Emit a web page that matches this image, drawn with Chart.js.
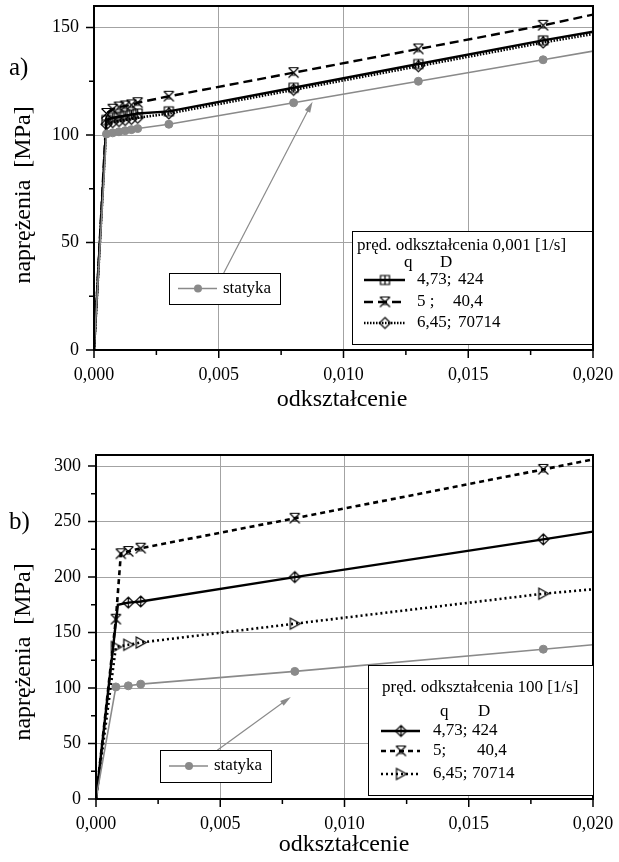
<!DOCTYPE html>
<html><head><meta charset="utf-8">
<script src="https://cdn.jsdelivr.net/npm/chart.js@4"></script>
<style>
html,body{margin:0;padding:0;background:#fff;}
#wrap{position:relative;width:619px;height:862px;background:#fff;}
canvas{position:absolute;left:0;}
</style></head><body>
<div id="wrap">
<canvas id="ca" width="619" height="431" style="top:0px"></canvas>
<canvas id="cb" width="619" height="431" style="top:431px"></canvas>
</div>
<script>
// ---------- tick values ----------
const xTicksMajor = [0, 0.005, 0.010, 0.015, 0.020];
const xTicksMinor = [0.0025, 0.0075, 0.0125, 0.0175];
const yTicksMajorA = [0, 50, 100, 150];
const yTicksMinorA = [25, 75, 125];
const yTicksMajorB = [0, 50, 100, 150, 200, 250, 300];
const yTicksMinorB = [25, 75, 125, 175, 225, 275];

// ---------- chart a) : strain rate 0,001 1/s ----------
const strainA      = [0, 0.0005, 0.00075, 0.001, 0.00125, 0.0015, 0.00175, 0.003, 0.008, 0.013, 0.018, 0.020];
const statykaA     = [0, 100.5, 101, 101.5, 102, 102.5, 103, 105, 115, 125, 135, 139];
const stressA_473  = [0, 107, 108, 108.5, 109, 109.5, 110, 111, 122, 133, 144, 148];
const stressA_5    = [0, 110, 112, 113, 113.5, 114, 115, 118, 129, 140, 151, 156];
const stressA_645  = [0, 105, 106, 106.5, 107, 107.5, 108, 110, 121, 132, 143, 147];

// ---------- chart b) : strain rate 100 1/s ----------
const strainB_stat = [0, 0.0008, 0.0013, 0.0018, 0.008, 0.018, 0.020];
const statykaB     = [0, 101, 102, 103.5, 115, 135, 139];
const strainB_473  = [0, 0.00088, 0.0013, 0.0018, 0.008, 0.018, 0.020];
const stressB_473  = [0, 175, 177, 178, 200, 234, 241];
const strainB_5    = [0, 0.0008, 0.001, 0.0013, 0.0018, 0.008, 0.018, 0.020];
const stressB_5    = [0, 162, 221, 223, 226, 253, 297, 306];
const strainB_645  = [0, 0.0008, 0.0013, 0.0018, 0.008, 0.018, 0.020];
const stressB_645  = [0, 137, 139, 141, 158, 185, 189];

// ---------- texts ----------
const legendTitleA = 'pręd. odkształcenia 0,001 [1/s]';
const legendTitleB = 'pręd. odkształcenia 100 [1/s]';
const qLabelsA = ['4,73;', '5 ;', '6,45;'];
const dLabelsA = ['424', '40,4', '70714'];
const qLabelsB = ['4,73;', '5;', '6,45;'];
const dLabelsB = ['424', '40,4', '70714'];
const staticLabel = 'statyka';
const yTitle = 'naprężenia  [MPa]';
const xTitle = 'odkształcenie';

const FONT = "'Liberation Serif', 'Times New Roman', serif";
Chart.defaults.font.family = FONT;
Chart.defaults.color = '#000';
const GRAY = '#8a8a8a';

// ---------- marker glyphs ----------
function mk(draw) {
  const c = document.createElement('canvas'); c.width = 15; c.height = 15;
  const g = c.getContext('2d'); g.strokeStyle = '#000'; g.lineWidth = 1.2;
  g.translate(7.5, 7.5); g.beginPath(); draw(g); g.stroke(); return c;
}
const mSqPlus = mk(g => { g.rect(-4.5, -4.5, 9, 9); g.moveTo(-4.5, 0); g.lineTo(4.5, 0); g.moveTo(0, -4.5); g.lineTo(0, 4.5); });
const mHourX = mk(g => { g.moveTo(-5, -5); g.lineTo(5, 5); g.moveTo(5, -5); g.lineTo(-5, 5); g.moveTo(-5, -5); g.lineTo(5, -5); g.moveTo(-2.5, 2.5); g.lineTo(2.5, 2.5); });
const mDiamond = mk(g => { g.moveTo(0, -5.5); g.lineTo(5.5, 0); g.lineTo(0, 5.5); g.lineTo(-5.5, 0); g.closePath(); });
const mDiamondPlus = mk(g => { g.moveTo(0, -5.5); g.lineTo(5.5, 0); g.lineTo(0, 5.5); g.lineTo(-5.5, 0); g.closePath(); g.moveTo(0, -5.5); g.lineTo(0, 5.5); g.moveTo(-5.5, 0); g.lineTo(5.5, 0); });
const mTriRight = mk(g => { g.moveTo(-4.5, -5.5); g.lineTo(5.5, 0); g.lineTo(-4.5, 5.5); g.closePath(); });

function pts(xs, ys) { return xs.map((x, i) => ({ x: x, y: ys[i] })); }
const isOn = (v, step) => Math.abs(v / step - Math.round(v / step)) < 1e-6;

function ds(label, xs, ys, style) {
  const n = xs.length;
  const hide = style.hide || [];
  return {
    label: label, data: pts(xs, ys),
    borderColor: style.color, backgroundColor: style.fill || style.color,
    borderWidth: style.width, borderDash: style.dash || [],
    pointStyle: style.marker, pointBorderColor: style.color, pointBackgroundColor: style.fill || style.color,
    pointRadius: ctx => (ctx.dataIndex === 0 || ctx.dataIndex === n - 1 || hide.includes(ctx.dataIndex)) ? 0 : (style.r || 5),
    pointBorderWidth: 1, tension: 0, fill: false, _marker: style.marker
  };
}

function drawSample(ctx, d, x0, x1, y, mx) {
  ctx.save();
  ctx.strokeStyle = d.borderColor; ctx.lineWidth = d.borderWidth; ctx.setLineDash(d.borderDash || []);
  ctx.beginPath(); ctx.moveTo(x0, y); ctx.lineTo(x1, y); ctx.stroke();
  ctx.setLineDash([]);
  const m = d._marker;
  if (m === 'circle') { ctx.fillStyle = d.pointBackgroundColor; ctx.beginPath(); ctx.arc(mx, y, 4, 0, Math.PI * 2); ctx.fill(); }
  else { ctx.drawImage(m, Math.round(mx) - 7.5, Math.round(y) - 7.5); }
  ctx.restore();
}

function annot(spec) {
  return {
    id: 'annot' + spec.id,
    afterDraw(chart) {
      const ctx = chart.ctx, a = chart.chartArea, xs = chart.scales.x, ys = chart.scales.y;
      const D = chart.data.datasets;
      ctx.save();
      // ticks
      ctx.strokeStyle = '#000'; ctx.lineWidth = 1.5; ctx.beginPath();
      xTicksMajor.forEach(v => { const p = xs.getPixelForValue(v); ctx.moveTo(p, a.bottom); ctx.lineTo(p, a.bottom + 8); });
      xTicksMinor.forEach(v => { const p = xs.getPixelForValue(v); ctx.moveTo(p, a.bottom); ctx.lineTo(p, a.bottom + 5); });
      spec.yMajor.forEach(v => { const p = ys.getPixelForValue(v); ctx.moveTo(a.left, p); ctx.lineTo(a.left - 8, p); });
      spec.yMinor.forEach(v => { const p = ys.getPixelForValue(v); ctx.moveTo(a.left, p); ctx.lineTo(a.left - 5, p); });
      ctx.stroke();
      // frame
      ctx.lineWidth = 2; ctx.strokeRect(a.left, a.top, a.right - a.left, a.bottom - a.top);
      // arrow
      const ax0 = xs.getPixelForValue(spec.arrow[0]), ay0 = ys.getPixelForValue(spec.arrow[1]);
      const ax1 = xs.getPixelForValue(spec.arrow[2]), ay1 = ys.getPixelForValue(spec.arrow[3]);
      const ang = Math.atan2(ay1 - ay0, ax1 - ax0);
      ctx.strokeStyle = GRAY; ctx.fillStyle = GRAY; ctx.lineWidth = 1.2;
      ctx.beginPath(); ctx.moveTo(ax0, ay0); ctx.lineTo(ax1 - 8 * Math.cos(ang), ay1 - 8 * Math.sin(ang)); ctx.stroke();
      ctx.beginPath(); ctx.moveTo(ax1, ay1);
      ctx.lineTo(ax1 - 11 * Math.cos(ang) + 3 * Math.sin(ang), ay1 - 11 * Math.sin(ang) - 3 * Math.cos(ang));
      ctx.lineTo(ax1 - 11 * Math.cos(ang) - 3 * Math.sin(ang), ay1 - 11 * Math.sin(ang) + 3 * Math.cos(ang));
      ctx.closePath(); ctx.fill();
      // static legend
      const S = spec.stat;
      ctx.fillStyle = '#fff'; ctx.fillRect(S.x, S.y, S.w, S.h);
      ctx.strokeStyle = '#000'; ctx.lineWidth = 1; ctx.strokeRect(S.x + 0.5, S.y + 0.5, S.w, S.h);
      drawSample(ctx, D[0], S.x + 9, S.x + 48, S.y + S.h / 2, S.x + 29);
      ctx.fillStyle = '#000'; ctx.font = '17px ' + FONT; ctx.textBaseline = 'middle'; ctx.textAlign = 'left';
      ctx.fillText(staticLabel, S.x + 54, S.y + S.h / 2);
      // main legend
      const L = spec.leg;
      ctx.fillStyle = '#fff'; ctx.fillRect(L.x, L.y, L.w, L.h);
      ctx.strokeStyle = '#000'; ctx.lineWidth = 1; ctx.strokeRect(L.x + 0.5, L.y + 0.5, L.w, L.h);
      ctx.fillStyle = '#000'; ctx.font = '17px ' + FONT;
      ctx.fillText(spec.legTitle, L.titleX, L.titleY);
      ctx.fillText('q', L.qX, L.qY); ctx.fillText('D', L.dX, L.qY);
      for (let i = 0; i < 3; i++) {
        const y = L.rows[i];
        drawSample(ctx, D[i + 1], L.lx0, L.lx1, y, (L.lx0 + L.lx1) / 2);
        ctx.fillStyle = '#000';
        ctx.fillText(spec.qLabels[i], L.tx, y);
        ctx.fillText(spec.dLabels[i], L.dxs[i], y);
      }
      // axis titles & panel label
      ctx.font = '24px ' + FONT; ctx.textAlign = 'center';
      ctx.fillText(xTitle, spec.xt[0], spec.xt[1]);
      ctx.save(); ctx.translate(spec.yt[0], spec.yt[1]); ctx.rotate(-Math.PI / 2);
      ctx.fillText(yTitle, 0, 0); ctx.restore();
      ctx.font = '25px ' + FONT; ctx.textAlign = 'left';
      ctx.fillText(spec.panel, spec.pl[0], spec.pl[1]);
      ctx.restore();
    }
  };
}

function makeChart(id, datasets, spec) {
  return new Chart(document.getElementById(id), {
    type: 'line',
    data: { datasets: datasets },
    options: {
      responsive: false, animation: false, devicePixelRatio: 1,
      layout: { padding: { top: spec.padTop, right: 26, bottom: 0, left: 0 } },
      plugins: { legend: { display: false }, tooltip: { enabled: false } },
      scales: {
        x: {
          type: 'linear', min: 0, max: 0.020,
          afterBuildTicks: s => { s.ticks = xTicksMajor.concat(xTicksMinor).sort((p, q) => p - q).map(v => ({ value: v })); },
          afterFit: s => { s.height = spec.xH; s.paddingLeft = 0; s.paddingRight = 0; },
          ticks: { autoSkip: false, maxRotation: 0, padding: 14, font: { size: 18 }, color: '#000',
            callback: v => isOn(v, 0.005) ? v.toFixed(3).replace('.', ',') : '' },
          grid: { drawTicks: false, lineWidth: 1,
            color: c => (c.tick && isOn(c.tick.value, 0.005) && c.tick.value > 0 && c.tick.value < 0.0199) ? '#a3a3a3' : 'rgba(0,0,0,0)' },
          border: { display: false }
        },
        y: {
          type: 'linear', min: 0, max: spec.yMax,
          afterBuildTicks: s => { s.ticks = spec.yMajor.concat(spec.yMinor).sort((p, q) => p - q).map(v => ({ value: v })); },
          afterFit: s => { s.width = spec.yW; s.paddingTop = 0; s.paddingBottom = 0; },
          ticks: { padding: 15, font: { size: 18 }, color: '#000',
            callback: v => isOn(v, 50) ? String(v) : '' },
          grid: { drawTicks: false, lineWidth: 1,
            color: c => (c.tick && isOn(c.tick.value, 50) && c.tick.value > 0) ? '#a3a3a3' : 'rgba(0,0,0,0)' },
          border: { display: false }
        }
      }
    },
    plugins: [annot(spec)]
  });
}

// ---------- chart a) ----------
makeChart('ca', [
  ds('statyka', strainA, statykaA, { color: GRAY, width: 1.6, marker: 'circle', r: 4 }),
  ds('4,73; 424', strainA, stressA_473, { color: '#000', width: 2.4, marker: mSqPlus }),
  ds('5; 40,4', strainA, stressA_5, { color: '#000', width: 2.4, dash: [9, 5], marker: mHourX }),
  ds('6,45; 70714', strainA, stressA_645, { color: '#000', width: 2.6, dash: [1.5, 1.5], marker: mDiamond })
], {
  id: 'A', padTop: 6, xH: 81, yW: 94, yMax: 160, yMajor: yTicksMajorA, yMinor: yTicksMinorA,
  arrow: [0.0052, 35.8, 0.00876, 115.5],
  stat: { x: 169, y: 273, w: 111, h: 31 },
  leg: { x: 352, y: 231, w: 240, h: 113, titleX: 357, titleY: 246, qX: 404, dX: 440, qY: 263,
         rows: [280, 302, 323], lx0: 364, lx1: 405, tx: 417, dxs: [458, 453, 458] },
  legTitle: legendTitleA, qLabels: qLabelsA, dLabels: dLabelsA,
  xt: [342, 400], yt: [24, 195], panel: 'a)', pl: [9, 68]
});

// ---------- chart b) ----------
makeChart('cb', [
  ds('statyka', strainB_stat, statykaB, { color: GRAY, width: 1.6, marker: 'circle', r: 4 }),
  ds('4,73; 424', strainB_473, stressB_473, { color: '#000', width: 2.4, marker: mDiamondPlus, hide: [1] }),
  ds('5; 40,4', strainB_5, stressB_5, { color: '#000', width: 2.6, dash: [5, 4], marker: mHourX }),
  ds('6,45; 70714', strainB_645, stressB_645, { color: '#000', width: 2.6, dash: [2, 3], marker: mTriRight })
], {
  id: 'B', padTop: 24, xH: 63, yW: 96, yMax: 310, yMajor: yTicksMajorB, yMinor: yTicksMinorB,
  arrow: [0.00488, 44, 0.00784, 92],
  stat: { x: 160, y: 319, w: 111, h: 32 },
  leg: { x: 368, y: 234, w: 225, h: 130, titleX: 382, titleY: 257, qX: 440, dX: 478, qY: 281,
         rows: [300, 320, 343], lx0: 381, lx1: 420, tx: 433, dxs: [472, 477, 472] },
  legTitle: legendTitleB, qLabels: qLabelsB, dLabels: dLabelsB,
  xt: [344, 414], yt: [24, 221], panel: 'b)', pl: [9, 91]
});
</script>
</body></html>
